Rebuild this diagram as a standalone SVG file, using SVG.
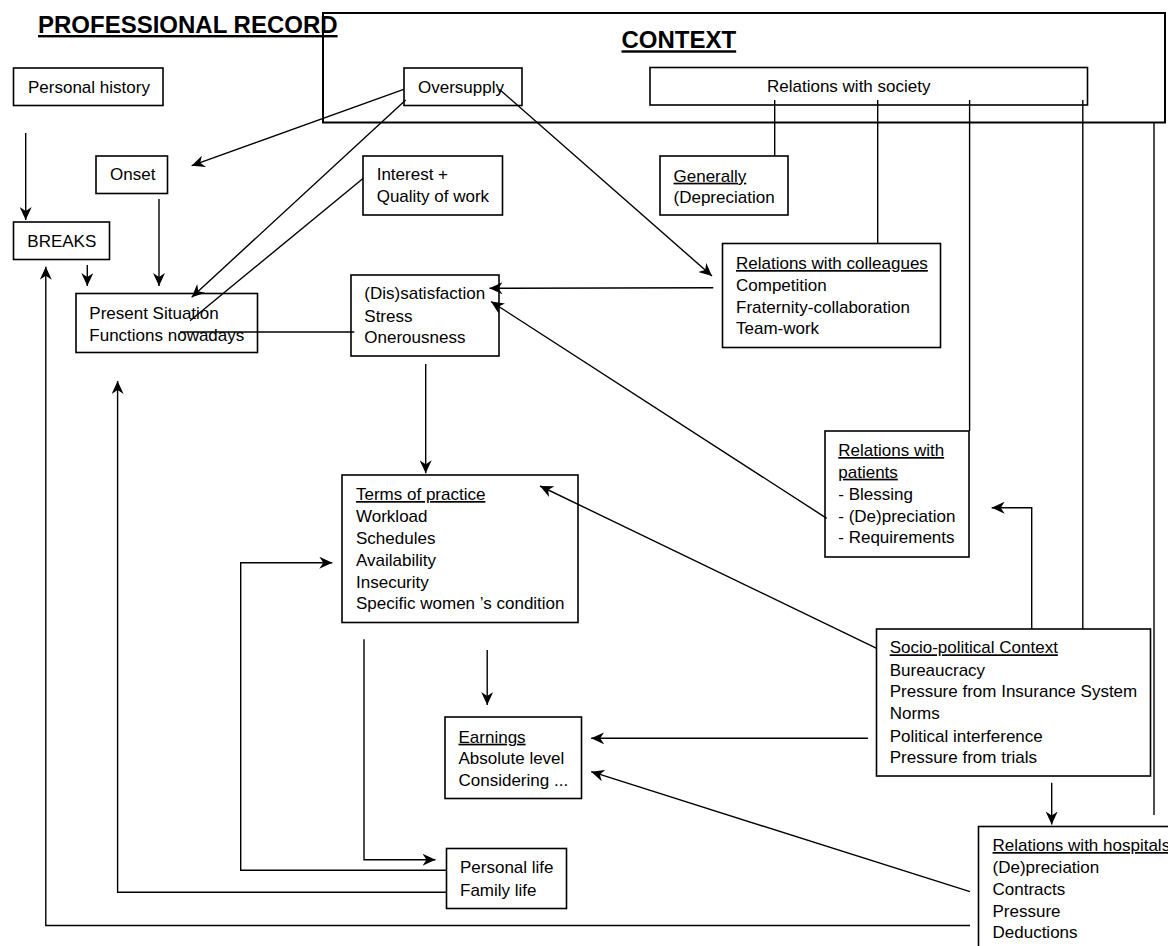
<svg xmlns="http://www.w3.org/2000/svg" width="1168" height="946" viewBox="0 0 1168 946">
<style>
text{font-family:"Liberation Sans",Arial,sans-serif;font-size:17px;fill:#000}
.t{font-size:24px;font-weight:bold;text-decoration:underline}
.u{text-decoration:underline}
rect{fill:none;stroke:#000;stroke-width:1.6}
.ctx{fill:none;stroke-width:2}
.c line,.c polyline{fill:none;stroke:#000;stroke-width:1.4}
.a{marker-end:url(#ah)}
</style>
<defs>
<marker id="ah" markerUnits="userSpaceOnUse" markerWidth="14" markerHeight="12" refX="13" refY="6" orient="auto">
<path d="M0,0 L13,6 L0,12 L4,6 z" fill="#000"/>
</marker>
</defs>
<rect class="ctx" x="323" y="13" width="842" height="109.5"/>
<text class="t" x="38" y="33">PROFESSIONAL RECORD</text>
<text class="t" x="621.5" y="48.3">CONTEXT</text>

<g id="personal-history"><rect x="13.5" y="68" width="149.5" height="37.5"/><text x="28" y="93">Personal history</text></g>
<g id="oversupply"><rect x="404" y="68" width="118" height="37.5"/><text x="418" y="92.7">Oversupply</text></g>
<g id="relations-society"><rect x="650" y="67.5" width="437.5" height="37.5"/><text x="767" y="92.3">Relations with society</text></g>
<g id="onset"><rect x="96" y="156" width="71.5" height="37.5"/><text x="110" y="180">Onset</text></g>
<g id="interest"><rect x="363" y="156" width="139.5" height="59"/><text x="376.7" y="180">Interest +</text><text x="376.7" y="201.7">Quality of work</text></g>
<g id="generally"><rect x="660" y="156" width="128" height="59"/><text x="673.5" y="181.7" class="u">Generally</text><text x="673.5" y="203.3">(Depreciation</text></g>
<g id="colleagues"><rect x="722.5" y="243.5" width="218" height="104"/><text x="736" y="269" class="u">Relations with colleagues</text><text x="736" y="291">Competition</text><text x="736" y="312.7">Fraternity-collaboration</text><text x="736" y="334">Team-work</text></g>
<g id="breaks"><rect x="13.5" y="222" width="96" height="37.5"/><text x="27.3" y="246.7">BREAKS</text></g>
<g id="present"><rect x="76" y="293.5" width="181.5" height="59"/><text x="89.3" y="318.7">Present Situation</text><text x="89.3" y="340.7">Functions nowadays</text></g>
<g id="dissatisfaction"><rect x="351" y="275" width="148" height="81"/><text x="364.3" y="299.3">(Dis)satisfaction</text><text x="364.3" y="321.7">Stress</text><text x="364.3" y="343.3">Onerousness</text></g>
<g id="terms"><rect x="342" y="475" width="236" height="147.5"/><text x="356" y="500" class="u">Terms of practice</text><text x="356" y="521.7">Workload</text><text x="356" y="544">Schedules</text><text x="356" y="565.7">Availability</text><text x="356" y="587.7">Insecurity</text><text x="356" y="609.3">Specific women ’s condition</text></g>
<g id="patients"><rect x="825" y="431" width="144" height="126"/><text x="838.3" y="456" class="u">Relations with</text><text x="838.3" y="477.7" class="u">patients</text><text x="838.3" y="500">- Blessing</text><text x="838.3" y="521.7">- (De)preciation</text><text x="838.3" y="543.3">- Requirements</text></g>
<g id="socio"><rect x="876.5" y="629" width="274" height="147"/><text x="889.7" y="653.3" class="u">Socio-political Context</text><text x="889.7" y="675.7">Bureaucracy</text><text x="889.7" y="697.3">Pressure from Insurance System</text><text x="889.7" y="719.3">Norms</text><text x="889.7" y="741.7">Political interference</text><text x="889.7" y="763.3">Pressure from trials</text></g>
<g id="earnings"><rect x="445" y="717" width="136.5" height="81.5"/><text x="458.5" y="742.7" class="u">Earnings</text><text x="458.5" y="764.3">Absolute level</text><text x="458.5" y="786">Considering ...</text></g>
<g id="personal-life"><rect x="446.5" y="848.5" width="120" height="60"/><text x="460" y="873.3">Personal life</text><text x="460" y="895.7">Family life</text></g>
<g id="hospitals"><rect x="978.5" y="826.5" width="300" height="200"/><text x="992.5" y="851" class="u">Relations with hospitals</text><text x="992.5" y="873.3">(De)preciation</text><text x="992.5" y="895">Contracts</text><text x="992.5" y="916.7">Pressure</text><text x="992.5" y="938.3">Deductions</text></g>

<g class="c" id="connectors">
<line x1="25.7" y1="133" x2="25.7" y2="220" class="a"/>
<line x1="87.3" y1="265" x2="87.3" y2="286" class="a"/>
<line x1="159" y1="199" x2="159" y2="286" class="a"/>
<line x1="403.7" y1="89.3" x2="191.7" y2="165.7" class="a"/>
<line x1="405.7" y1="100" x2="191.7" y2="297.3" class="a"/>
<line x1="363.3" y1="178.3" x2="190" y2="320.7"/>
<line x1="499.3" y1="89.3" x2="712" y2="276" class="a"/>
<line x1="713.3" y1="287.7" x2="489.5" y2="288.3" class="a"/>
<line x1="826.7" y1="518.3" x2="491" y2="301.5" class="a"/>
<line x1="354.3" y1="332" x2="180" y2="332"/>
<line x1="425.7" y1="364" x2="425.7" y2="473.3" class="a"/>
<line x1="876.7" y1="648.3" x2="540" y2="486" class="a"/>
<line x1="774.7" y1="100" x2="774.7" y2="156"/>
<line x1="877.7" y1="100" x2="877.7" y2="243.5"/>
<line x1="969.6" y1="100" x2="969.6" y2="431"/>
<line x1="1082.8" y1="100" x2="1082.8" y2="629"/>
<line x1="1154" y1="122.5" x2="1154" y2="815"/>
<polyline points="1031.7,629 1031.7,507.7 991.7,507.7" class="a"/>
<line x1="868" y1="738.3" x2="591.2" y2="738.3" class="a"/>
<line x1="970" y1="891.7" x2="591.2" y2="771.7" class="a"/>
<line x1="1051.7" y1="782.7" x2="1051.7" y2="824.5" class="a"/>
<line x1="487.2" y1="650" x2="487.2" y2="705" class="a"/>
<polyline points="364,639.3 364,859.7 435.5,859.7" class="a"/>
<polyline points="446.5,870.3 240.7,870.3 240.7,562.7 332.3,562.7" class="a"/>
<polyline points="446.5,892.3 117.6,892.3 117.6,381" class="a"/>
<polyline points="970,925.5 45.8,925.5 45.8,266.7" class="a"/>
</g>
</svg>
